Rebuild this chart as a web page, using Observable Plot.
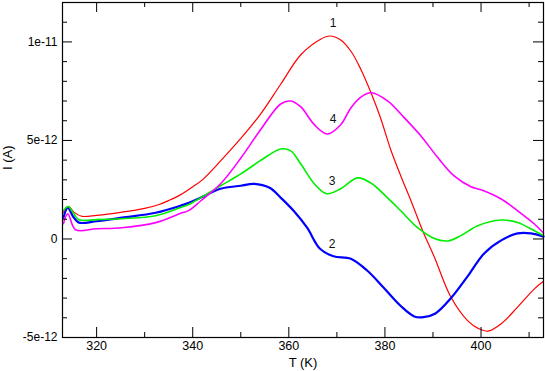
<!DOCTYPE html>
<html>
<head>
<meta charset="utf-8">
<script src="https://cdn.jsdelivr.net/npm/d3@7"></script>
<script src="https://cdn.jsdelivr.net/npm/@observablehq/plot@0.6"></script>
<style>
  html, body { margin: 0; padding: 0; background: #fff; }
</style>
</head>
<body>
<div id="chart"></div>
<script>
// Curve 1 (red)
const T1 = [313.1, 314.2, 315.3, 317, 320, 325, 330, 333, 335, 337.5, 340, 342, 345.8, 350, 354, 358.3, 362.5, 366.7, 368.5, 370.8, 373, 375, 377.1, 379, 381.25, 383.3, 385.4, 387.85, 390.3, 393.75, 397.2, 399.5, 401.4, 404.2, 407.6, 411.1, 413];
const I1 = [1.35, 1.64, 1.35, 1.15, 1.2, 1.35, 1.55, 1.75, 1.95, 2.25, 2.65, 3.0, 3.96, 5.1, 6.3, 7.85, 9.35, 10.15, 10.3, 10.1, 9.5, 8.6, 7.42, 6.2, 4.5, 3.2, 1.95, 0.42, -0.93, -2.96, -4.14, -4.55, -4.68, -4.3, -3.46, -2.53, -2.15];
// Curve 2 (blue)
const T2 = [313.1, 314, 315.2, 316.3, 320, 325.3, 332.3, 337.5, 339.2, 341.7, 345.8, 350, 352.7, 356, 358.3, 361, 363.8, 366.5, 369.3, 372.9, 376.3, 379.7, 383.3, 386.1, 388, 390.5, 393.75, 397.2, 400.7, 404.2, 407.6, 410.4, 413];
const I2 = [1.08, 1.58, 1.1, 0.83, 0.9, 1.08, 1.33, 1.69, 1.84, 2.1, 2.55, 2.7, 2.8, 2.6, 2.1, 1.43, 0.57, -0.5, -0.88, -1.0, -1.6, -2.46, -3.4, -3.93, -3.97, -3.78, -3.0, -1.9, -0.72, -0.07, 0.28, 0.28, 0.12];
// Curve 3 (green)
const T3 = [313.1, 314.1, 315.2, 316.3, 320, 325.3, 332.3, 337.5, 339.2, 341.7, 345.8, 350, 354, 358.3, 360.4, 362.5, 365.3, 367.8, 370.8, 374.3, 377, 380.5, 383.3, 386.8, 390.3, 393, 395.8, 399.3, 404.2, 407.6, 411.1, 413];
const I3 = [1.45, 1.65, 1.3, 0.98, 0.98, 1.03, 1.18, 1.6, 1.75, 2.1, 2.7, 3.3, 3.96, 4.57, 4.47, 3.8, 2.8, 2.3, 2.55, 3.1, 2.85, 2.1, 1.43, 0.57, 0.02, -0.1, 0.17, 0.67, 0.96, 0.84, 0.42, 0.17];
// Curve 4 (magenta)
const T4 = [313.1, 314, 315.6, 320, 325.3, 332.3, 337.5, 339.2, 341.7, 345.8, 350, 354, 358.3, 360.4, 362.5, 365.3, 368, 370.8, 372.9, 375, 377.1, 380.6, 384, 387.5, 391, 394.4, 397.9, 400, 404.2, 407.6, 411.1, 413];
const I4 = [0.78, 1.28, 0.47, 0.52, 0.57, 0.83, 1.3, 1.45, 1.94, 2.8, 4.1, 5.5, 6.85, 7.0, 6.7, 5.8, 5.33, 5.8, 6.65, 7.2, 7.42, 7.0, 6.16, 5.23, 4.13, 3.2, 2.65, 2.5, 2.03, 1.43, 0.76, 0.3];

const seriesNames = ["1", "2", "3", "4"];
const seriesColors = ["#ff0000", "#0000ff", "#00ee00", "#ff00ff"];
const seriesWidths = [1.2, 2.2, 1.6, 1.6];

// curve labels (data coordinates)
const labelT = [369.2, 369.0, 369.0, 369.2];
const labelI = [10.94, -0.25, 2.95, 6.08];

const xMajor = [320, 340, 360, 380, 400];
const xMinor = [330, 350, 370, 390, 410];
const yMajor = [-5, 0, 5, 10];
const yMajorLabels = ["-5e-12", "0", "5e-12", "1e-11"];
const yMinor = [-4, -3, -2, -1, 1, 2, 3, 4, 6, 7, 8, 9, 11];

const W = 545, H = 371;
const mL = 62, mR = 2, mT = 2, mB = 34;
const innerW = W - mL - mR, innerH = H - mT - mB;
const majorLen = 10, minorLen = 5;

const Ts = [T1, T2, T3, T4];
const Is = [I1, I2, I3, I4];
const lineMarks = Ts.map((T, k) => Plot.line(T.map((t, i) => ({t, v: Is[k][i]})), {
  x: "t", y: "v", stroke: seriesColors[k], strokeWidth: seriesWidths[k], curve: "catmull-rom"
}));

const labels = seriesNames.map((n, i) => ({n, t: labelT[i], v: labelI[i]}));
const font = "Liberation Sans, Arial, Helvetica, sans-serif";

const chart = Plot.plot({
  width: W, height: H,
  marginLeft: mL, marginRight: mR, marginTop: mT, marginBottom: mB,
  style: {fontFamily: font, fontSize: "12px", background: "#fff", color: "#000"},
  x: {domain: [312.9, 413]},
  y: {domain: [-5, 12]},
  marks: [
    ...lineMarks,
    Plot.text(labels, {x: "t", y: "v", text: "n", fontSize: 12, fill: "#111", textAnchor: "middle", lineAnchor: "middle"}),
    // inward ticks
    Plot.tickX(xMajor, {x: d => d, insetTop: innerH - majorLen, stroke: "#000"}),
    Plot.tickX(xMinor, {x: d => d, insetTop: innerH - minorLen, stroke: "#000"}),
    Plot.tickX(xMajor, {x: d => d, insetBottom: innerH - majorLen, stroke: "#000"}),
    Plot.tickX(xMinor, {x: d => d, insetBottom: innerH - minorLen, stroke: "#000"}),
    Plot.tickY(yMajor, {y: d => d, insetRight: innerW - majorLen, stroke: "#000"}),
    Plot.tickY(yMinor, {y: d => d, insetRight: innerW - minorLen, stroke: "#000"}),
    Plot.tickY(yMajor, {y: d => d, insetLeft: innerW - majorLen, stroke: "#000"}),
    Plot.tickY(yMinor, {y: d => d, insetLeft: innerW - minorLen, stroke: "#000"}),
    Plot.axisX({ticks: xMajor, tickSize: 0, tickPadding: 4, label: null, fontSize: 12.5, fill: "#000"}),
    Plot.axisY({ticks: yMajor, tickSize: 0, tickPadding: 5, label: null, fontSize: 12, fill: "#000",
      tickFormat: d => yMajorLabels[yMajor.indexOf(d)]}),
    Plot.text(["T (K)"], {frameAnchor: "bottom", dy: 25, text: d => d, fontSize: 13, fill: "#000", lineAnchor: "middle"}),
    Plot.text(["I (A)"], {frameAnchor: "left", dx: -54.5, rotate: -90, text: d => d, fontSize: 13, fill: "#000", lineAnchor: "middle"}),
    Plot.frame({stroke: "#000", strokeWidth: 1.2})
  ]
});
document.getElementById("chart").appendChild(chart);
</script>
</body>
</html>
